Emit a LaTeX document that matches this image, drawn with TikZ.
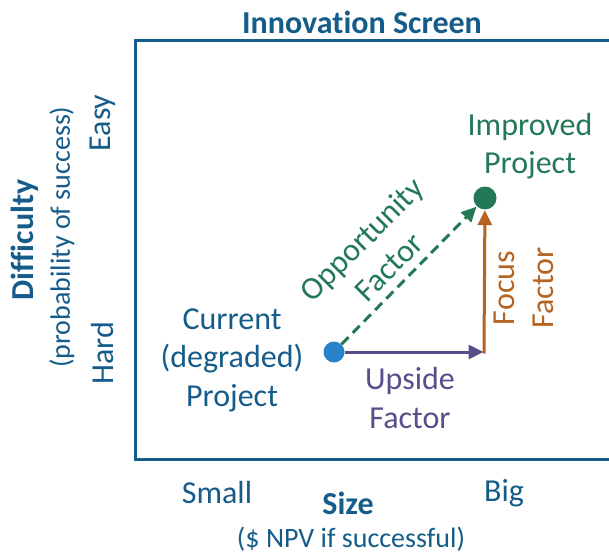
\documentclass[tikz,border=0pt]{standalone}
\usepackage{fontspec}
\setmainfont{Carlito}[Ligatures=NoCommon]
\usetikzlibrary{arrows.meta}

\definecolor{inkblue}{RGB}{22,92,138}
\definecolor{ingreen}{RGB}{35,120,86}
\definecolor{inorange}{RGB}{180,100,32}
\definecolor{inpurple}{RGB}{86,79,140}
\definecolor{dotblue}{RGB}{38,132,204}

\tikzset{
  big/.style={font=\fontsize{32}{38.5}\selectfont, inner sep=0pt, align=center},
  bigbold/.style={font=\fontsize{32}{38.5}\selectfont\bfseries, inner sep=0pt, align=center},
  sub/.style={font=\fontsize{28}{31}\selectfont, inner sep=0pt, align=center},
  frame/.style={draw=inkblue, line width=3pt},
  dot/.style={circle, inner sep=0pt},
  vec/.style={line width=3pt, -{Triangle[length=15pt,width=14pt]}, shorten >=0.5pt},
}

\begin{document}
\begin{tikzpicture}[x=1pt, y=-1pt]
  \useasboundingbox (0,0) rectangle (609,553);
  \clip (0,0) rectangle (609,553);

  % screen frame (open to the right)
  \draw[frame] (135,41) rectangle (640,459);

  % title and axis labels
  \node[bigbold, text=inkblue] (title) at (362,22) {Innovation Screen};
  \node[bigbold, text=inkblue, rotate=90] (difficulty) at (25,240) {Difficulty};
  \node[sub, text=inkblue, rotate=90] (prob) at (62,237) {(probability of success)};
  \node[big, text=inkblue, rotate=90] (easy) at (103,123) {Easy};
  \node[big, text=inkblue, rotate=90] (hard) at (103,353) {Hard};
  \node[big, text=inkblue] (small) at (217,493) {Small};
  \node[big, text=inkblue] (bigl) at (504,493) {Big};
  \node[bigbold, text=inkblue] (size) at (348,503) {Size};
  \node[sub, text=inkblue] (npv) at (351,539) {(\$ NPV if successful)};

  % projects
  \node[dot, fill=dotblue, minimum size=21pt] (cur) at (334,352) {};
  \node[dot, fill=ingreen, minimum size=23pt] (imp) at (485,198) {};
  \coordinate (corner) at (484,352);

  \node[big, text=inkblue] (curlbl) at (232,360) {Current\\(degraded)\\Project};
  \node[big, text=ingreen] (implbl) at (530,146) {Improved\\Project};

  % improvement factors
  \draw[vec, inpurple] (cur) -- (corner);
  \draw[vec, inorange, shorten <=-1.5pt] (corner) -- (imp);
  \draw[vec, ingreen, dash pattern=on 10pt off 6pt] (cur) -- (imp);

  \node[big, text=inpurple] (upside) at (410,398) {Upside\\Factor};
  \node[big, text=ingreen, rotate=45] (opp) at (375,253) {Opportunity\\Factor};
  \node[big, text=inorange, rotate=90] (focus) at (524,288) {Focus\\Factor};
\end{tikzpicture}
\end{document}
